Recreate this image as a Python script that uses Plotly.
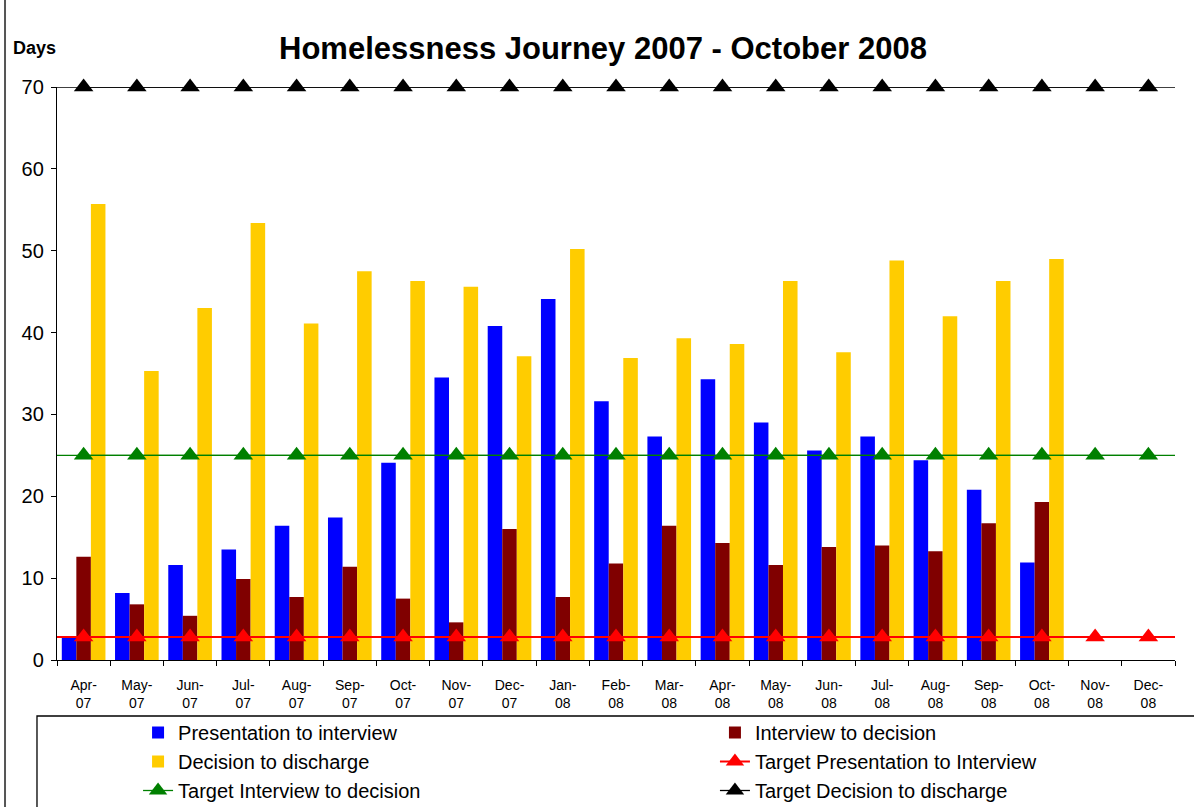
import plotly.graph_objects as go

# Monthly categories (two-line tick labels)
months = ["Apr-<br>07", "May-<br>07", "Jun-<br>07", "Jul-<br>07", "Aug-<br>07", "Sep-<br>07",
          "Oct-<br>07", "Nov-<br>07", "Dec-<br>07", "Jan-<br>08", "Feb-<br>08", "Mar-<br>08",
          "Apr-<br>08", "May-<br>08", "Jun-<br>08", "Jul-<br>08", "Aug-<br>08", "Sep-<br>08",
          "Oct-<br>08", "Nov-<br>08", "Dec-<br>08"]

# Average days for each stage of the journey
presentation_to_interview = [2.7, 8.2, 11.6, 13.5, 16.4, 17.4, 24.1, 34.5, 40.8, 44.1, 31.6, 27.3,
                             34.3, 29.0, 25.6, 27.3, 24.4, 20.8, 11.9, None, None]
interview_to_decision = [12.6, 6.8, 5.4, 9.9, 7.7, 11.4, 7.5, 4.6, 16.0, 7.7, 11.8, 16.4,
                         14.3, 11.6, 13.8, 14.0, 13.3, 16.7, 19.3, None, None]
decision_to_discharge = [55.7, 35.3, 43.0, 53.4, 41.1, 47.5, 46.3, 45.6, 37.1, 50.2, 36.9, 39.3,
                         38.6, 46.3, 37.6, 48.8, 42.0, 46.3, 49.0, None, None]

# Targets (days)
target_presentation_to_interview = [2.8, 2.8, 2.8, 2.8, 2.8, 2.8, 2.8, 2.8, 2.8, 2.8, 2.8,
                                    2.8, 2.8, 2.8, 2.8, 2.8, 2.8, 2.8, 2.8, 2.8, 2.8]
target_interview_to_decision = [25, 25, 25, 25, 25, 25, 25, 25, 25, 25, 25,
                                25, 25, 25, 25, 25, 25, 25, 25, 25, 25]
target_decision_to_discharge = [70, 70, 70, 70, 70, 70, 70, 70, 70, 70, 70,
                                70, 70, 70, 70, 70, 70, 70, 70, 70, 70]

y_ticks = [0, 10, 20, 30, 40, 50, 60, 70]

FONT = "Arial, Liberation Sans, sans-serif"

fig = go.Figure()

# (name, values, colour, legend column)
bar_series = [
    ("Presentation to interview", presentation_to_interview, "#0000FF", "legend"),
    ("Interview to decision", interview_to_decision, "#800000", "legend2"),
    ("Decision to discharge", decision_to_discharge, "#FFCC00", "legend"),
]
for name, vals, col, lg in bar_series:
    fig.add_trace(go.Bar(x=months, y=vals, name=name, legend=lg,
                         marker=dict(color=col, line=dict(width=0))))

target_series = [
    ("Target Presentation to Interview", target_presentation_to_interview, "#FF0000", 2, "legend2"),
    ("Target Interview to decision", target_interview_to_decision, "#008000", 1.3, "legend"),
    ("Target Decision to discharge", target_decision_to_discharge, "#000000", 1.3, "legend2"),
]
for name, vals, col, w, lg in target_series:
    # target line spans the full plot width
    fig.add_shape(type="line", xref="paper", x0=0, x1=1, yref="y", y0=vals[0], y1=vals[0],
                  line=dict(color=col, width=w), layer="above")
    fig.add_trace(go.Scatter(x=months, y=vals, name=name, legend=lg, mode="lines+markers",
                             line=dict(color=col, width=w),
                             marker=dict(symbol="triangle-up", size=17, color=col),
                             cliponaxis=False))

# Legend frame and chart-area edge
fig.add_shape(type="rect", xref="paper", yref="paper", x0=-0.0179, x1=1.05, y0=-0.0977, y1=-0.3,
              line=dict(color="black", width=1.3), fillcolor="rgba(0,0,0,0)")
fig.add_shape(type="line", xref="paper", yref="paper", x0=-0.0465, x1=-0.0465, y0=-0.3, y1=1.3,
              line=dict(color="#555555", width=2))

fig.add_annotation(text="<b>Homelessness Journey 2007 - October 2008</b>", xref="paper", yref="paper",
                   x=0.488, y=1.068, xanchor="center", yanchor="middle", showarrow=False,
                   font=dict(size=31, color="black", family=FONT))
fig.add_annotation(text="<b>Days</b>", xref="paper", yref="paper", x=-0.0197, y=1.068,
                   xanchor="center", yanchor="middle", showarrow=False,
                   font=dict(size=18, color="black", family=FONT))

legend_common = dict(orientation="v", yanchor="top", xanchor="left", y=-0.0925,
                     font=dict(size=20, family=FONT), bgcolor="rgba(0,0,0,0)",
                     tracegroupgap=0, traceorder="normal")

fig.update_layout(
    width=1194, height=807,
    margin=dict(l=57, r=19, t=87, b=147, autoexpand=False),
    paper_bgcolor="white", plot_bgcolor="white",
    font=dict(family=FONT, color="black"),
    barmode="group", bargap=0.18, bargroupgap=0,
    showlegend=True,
    legend=dict(x=0.0725, **legend_common),
    legend2=dict(x=0.5885, **legend_common),
    xaxis=dict(type="category", range=[-0.5, len(months) - 0.5], tickson="boundaries",
               ticks="outside", ticklen=5, tickcolor="black", showline=True, linecolor="black",
               linewidth=1.3, showgrid=False, tickfont=dict(size=14, family=FONT), tickangle=0,
               ticklabelstandoff=12),
    yaxis=dict(range=[0, 70], tickvals=y_ticks, ticks="outside", ticklen=5, tickcolor="black",
               showline=True, linecolor="black", linewidth=1.3, showgrid=False, zeroline=False,
               tickfont=dict(size=20, family=FONT), ticklabelstandoff=3),
)

fig.write_html("out.html")
